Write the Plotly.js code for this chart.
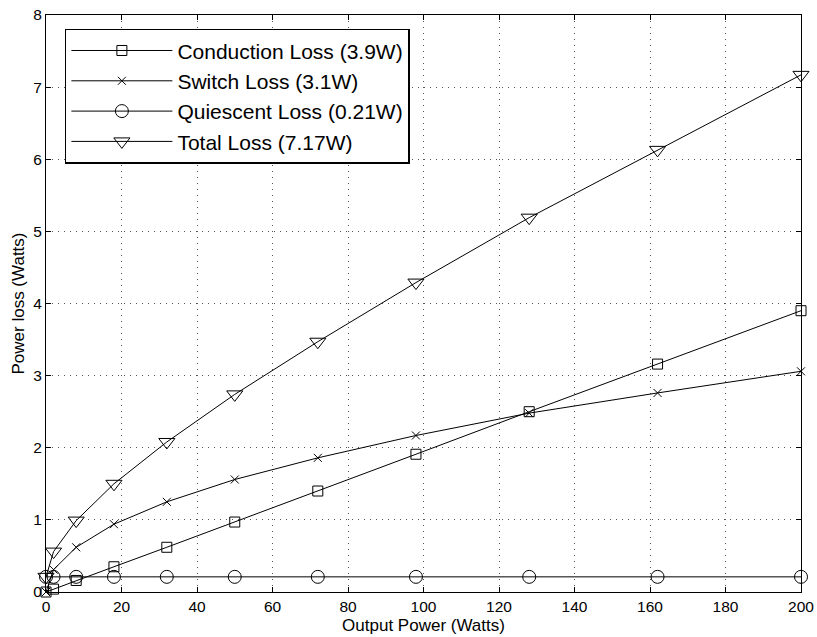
<!DOCTYPE html>
<html>
<head>
<meta charset="utf-8">
<script src="https://cdn.plot.ly/plotly-3.0.1.min.js"></script>
<style>html,body{margin:0;padding:0;background:#fff;}#chart{width:817px;height:637px;}</style>
</head>
<body>
<div id="chart"></div>
<script>
var outputPower = [0, 2, 8, 18, 32, 50, 72, 98, 128, 162, 200];
var conductionLoss = [0, 0.04, 0.16, 0.35, 0.62, 0.97, 1.40, 1.91, 2.50, 3.16, 3.90];
var switchLoss = [0, 0.31, 0.62, 0.94, 1.25, 1.56, 1.86, 2.17, 2.48, 2.76, 3.06];
var quiescentLoss = [0.21, 0.21, 0.21, 0.21, 0.21, 0.21, 0.21, 0.21, 0.21, 0.21, 0.21];
var totalLoss = [0.21, 0.56, 0.99, 1.50, 2.08, 2.74, 3.47, 4.29, 5.19, 6.13, 7.17];
var seriesNames = ['Conduction Loss (3.9W)', 'Switch Loss (3.1W)', 'Quiescent Loss (0.21W)', 'Total Loss (7.17W)'];
var xTicks = [0, 20, 40, 60, 80, 100, 120, 140, 160, 180, 200];
var yTicks = [0, 1, 2, 3, 4, 5, 6, 7, 8];

var FONT = 'Liberation Sans, Arial, Helvetica, sans-serif';
function mk(y, name, symbol, size) {
  return {
    x: outputPower, y: y, name: name, type: 'scatter', mode: 'lines+markers',
    line: {color: '#000', width: 1},
    marker: {symbol: symbol, size: size, color: '#000', line: {color: '#000', width: 1}},
    cliponaxis: false
  };
}
var traces = [
  mk(conductionLoss, seriesNames[0], 'square-open', 10),
  mk(switchLoss, seriesNames[1], 'x-thin-open', 8),
  mk(quiescentLoss, seriesNames[2], 'circle-open', 13),
  mk(totalLoss, seriesNames[3], 'triangle-down-open', 14)
];
var axisCommon = {
  showline: true, linecolor: '#000', linewidth: 1, mirror: 'allticks',
  ticks: 'inside', ticklen: 5, tickcolor: '#000', tickwidth: 1,
  showgrid: true, gridcolor: '#555', gridwidth: 1, griddash: '1px,5px',
  zeroline: false, tickfont: {family: FONT, size: 15.5, color: '#000'},
  automargin: false
};
var layout = {
  width: 817, height: 637,
  margin: {l: 46, r: 16, t: 15, b: 45},
  paper_bgcolor: '#fff', plot_bgcolor: '#fff',
  font: {family: FONT, color: '#000'},
  showlegend: true,
  legend: {
    x: 0.025, y: 0.976, xanchor: 'left', yanchor: 'top',
    bgcolor: '#fff', bordercolor: '#000', borderwidth: 1.5,
    font: {family: FONT, size: 21, color: '#000'},
    itemwidth: 101, tracegroupgap: 0
  },
  xaxis: Object.assign({}, axisCommon, {
    range: [0, 200], tickvals: xTicks, ticktext: xTicks.map(String),
    title: {text: 'Output Power (Watts)', font: {family: FONT, size: 17, color: '#000'}, standoff: 5}
  }),
  yaxis: Object.assign({}, axisCommon, {
    range: [0, 8], tickvals: yTicks, ticktext: yTicks.map(String),
    title: {text: 'Power loss (Watts)', font: {family: FONT, size: 17, color: '#000'}, standoff: 4}
  })
};
Plotly.newPlot('chart', traces, layout, {displayModeBar: false, staticPlot: true});
</script>
</body>
</html>
